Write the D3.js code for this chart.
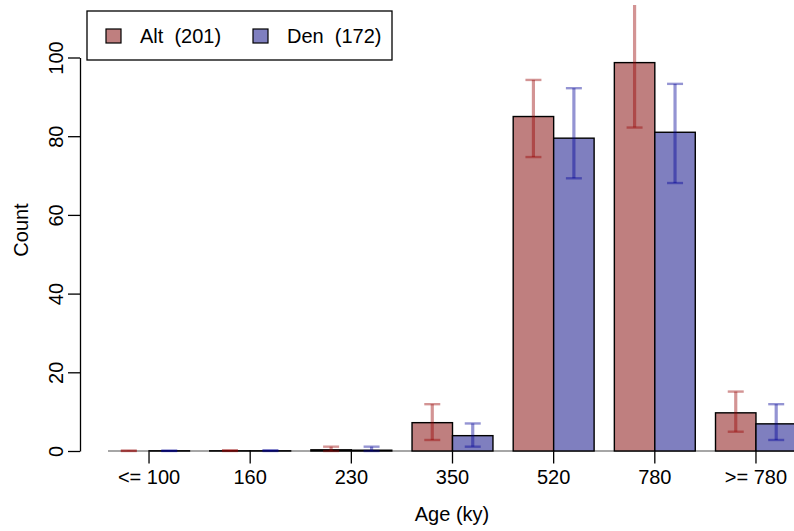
<!DOCTYPE html>
<html>
<head>
<meta charset="utf-8">
<script src="https://cdn.jsdelivr.net/npm/d3@7"></script>
<style>
  html, body { margin: 0; padding: 0; background: #fff; }
  svg { display: block; font-family: "Liberation Sans", Arial, Helvetica, sans-serif; }
  text { white-space: pre; }
</style>
</head>
<body>
<svg id="chart" width="794" height="531"></svg>
<script>
// Age bins and per-group counts with their interval bounds
const categories = ["<= 100", "160", "230", "350", "520", "780", ">= 780"];
const groups = ["Alt", "Den"];
const groupLabels = ["Alt  (201)", "Den  (172)"];
const altCounts = [0, 0.05, 0.3, 7.2, 85.0, 98.7, 9.7];
const denCounts = [0.05, 0.05, 0.2, 3.9, 79.5, 81.0, 6.9];
const altLow  = [0, 0, 0, 2.8, 74.7, 82.2, 4.9];
const altHigh = [0.1, 0.2, 1.1, 11.9, 94.3, 115.2, 15.1];
const denLow  = [0, 0, 0, 1.1, 69.3, 68.1, 2.8];
const denHigh = [0.1, 0.2, 1.1, 7.0, 92.2, 93.3, 11.9];
const yTicks = [0, 20, 40, 60, 80, 100];

const fills = { Alt: "#bf7f7f", Den: "#7f7fbf" };
const errColors = { Alt: "rgba(150,0,0,0.42)", Den: "rgba(0,0,150,0.42)" };

const rows = [];
categories.forEach((c, i) => {
  rows.push({ cat: c, group: "Alt", value: altCounts[i], lo: altLow[i], hi: altHigh[i] });
  rows.push({ cat: c, group: "Den", value: denCounts[i], lo: denLow[i], hi: denHigh[i] });
});

const svg = d3.select("#chart");
const fontSize = 20;

const x = d3.scaleBand().domain(categories).range([98.45, 806.55])
  .paddingInner(0.2).paddingOuter(0.1);
const xg = d3.scaleBand().domain(groups).range([0, x.bandwidth()]);
const y = d3.scaleLinear().domain([0, 100]).range([451, 57.5]);

// plotting region clip
svg.append("defs").append("clipPath").attr("id", "plot-clip")
  .append("rect").attr("x", 84).attr("y", 5).attr("width", 720).attr("height", 460);

const plot = svg.append("g").attr("clip-path", "url(#plot-clip)");

// zero reference line
plot.append("line")
  .attr("x1", 108).attr("x2", 794)
  .attr("y1", y(0)).attr("y2", y(0))
  .attr("stroke", "#888").attr("stroke-width", 1.5);

// bars
plot.append("g").selectAll("rect").data(rows).join("rect")
  .attr("x", d => x(d.cat) + xg(d.group))
  .attr("y", d => y(d.value))
  .attr("width", xg.bandwidth())
  .attr("height", d => y(0) - y(d.value))
  .attr("fill", d => fills[d.group])
  .attr("stroke", "#000")
  .attr("stroke-width", d => d.value > 0 ? 1.4 : 0);

// interval bars
const cap = 8;
const eb = plot.append("g").selectAll("g").data(rows).join("g")
  .attr("transform", d => `translate(${x(d.cat) + xg(d.group) + xg.bandwidth() / 2},0)`)
  .attr("stroke", d => errColors[d.group]);
eb.append("line")
  .attr("x1", 0).attr("x2", 0)
  .attr("y1", d => y(d.lo)).attr("y2", d => y(d.hi))
  .attr("stroke-width", 3.2);
eb.append("line")
  .attr("x1", -cap).attr("x2", cap)
  .attr("y1", d => y(d.hi)).attr("y2", d => y(d.hi))
  .attr("stroke-width", 2.4);
eb.append("line")
  .attr("x1", -cap).attr("x2", cap)
  .attr("y1", d => y(d.lo)).attr("y2", d => y(d.lo))
  .attr("stroke-width", 2.4);

// x axis: ticks and labels only
const xAxis = svg.append("g")
  .attr("transform", `translate(0,${y(0) + 0.5})`)
  .call(d3.axisBottom(x).tickSize(12).tickSizeOuter(0));
xAxis.select(".domain").remove();
xAxis.selectAll(".tick line").attr("stroke", "#000").attr("stroke-width", 1.3);
xAxis.selectAll(".tick text")
  .attr("font-size", fontSize).attr("font-family", null)
  .attr("fill", "#000").attr("y", 18).attr("dy", "0.71em");

// y axis
const yAxis = svg.append("g")
  .attr("transform", "translate(80,0)")
  .call(d3.axisLeft(y).tickValues(yTicks).tickSize(12).tickSizeOuter(0));
yAxis.select(".domain").attr("stroke-width", 1.3);
yAxis.selectAll(".tick line").attr("stroke-width", 1.3);
yAxis.selectAll(".tick text")
  .attr("font-size", fontSize).attr("font-family", null).attr("fill", "#000")
  .attr("x", null).attr("dy", null)
  .attr("text-anchor", "middle")
  .attr("transform", "translate(-17,0) rotate(-90)");

// axis titles
svg.append("text")
  .attr("x", 452).attr("y", 521)
  .attr("text-anchor", "middle").attr("font-size", fontSize)
  .text("Age (ky)");
svg.append("text")
  .attr("transform", "translate(28,230) rotate(-90)")
  .attr("text-anchor", "middle").attr("font-size", fontSize)
  .text("Count");

// legend
const legend = svg.append("g");
legend.append("rect")
  .attr("x", 87).attr("y", 11).attr("width", 305).attr("height", 49)
  .attr("fill", "#fff").attr("stroke", "#000").attr("stroke-width", 1.3);
const items = legend.selectAll("g.item").data(groups).join("g")
  .attr("class", "item")
  .attr("transform", (d, i) => `translate(${i === 0 ? 106 : 253},0)`);
items.append("rect")
  .attr("x", 0).attr("y", 29).attr("width", 15).attr("height", 14)
  .attr("fill", d => fills[d]).attr("stroke", "#000").attr("stroke-width", 1.2);
items.append("text")
  .attr("x", 34).attr("y", 43).attr("font-size", fontSize)
  .text((d, i) => groupLabels[i]);
</script>
</body>
</html>
